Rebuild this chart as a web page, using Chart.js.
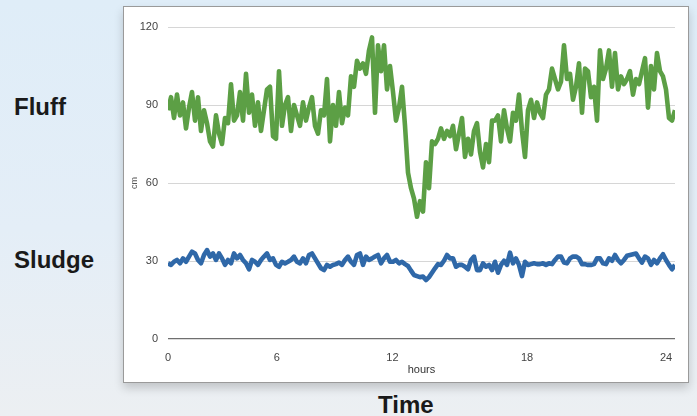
<!DOCTYPE html>
<html>
<head>
<meta charset="utf-8">
<script src="https://cdn.jsdelivr.net/npm/chart.js@4.4.1/dist/chart.umd.min.js"></script>
<style>
    html, body { margin: 0; padding: 0; }
    body {
        width: 697px; height: 416px; position: relative; overflow: hidden;
        background: linear-gradient(180deg, #dfedf8 0%, #e4eef7 55%, #eceff2 100%);
        font-family: "Liberation Sans", Arial, Helvetica, sans-serif;
    }
    .side { position: absolute; font-weight: bold; font-size: 24px; line-height: 24px; color: #1a1a1a; }
    #panel {
        position: absolute; left: 123px; top: 6px; width: 564px; height: 375px;
        background: #fff; border: 1px solid #9a9a9a;
        box-shadow: 0 5px 9px rgba(0, 0, 0, 0.18);
    }
</style>
</head>
<body>
<div class="side" style="left:14px; top:95px;">Fluff</div>
<div class="side" style="left:14px; top:248px;">Sludge</div>
<div class="side" style="left:378px; top:393px;">Time</div>
<div id="panel"><canvas id="chart" width="564" height="375"></canvas></div>

<script>
// level readings in cm, one per sample, left to right
const fluff = [
    88, 93, 85, 94, 86, 91, 81, 89, 95, 84,
    93, 80, 88, 83, 76, 74, 86, 79, 75, 85,
    83, 98, 84, 86, 95, 84, 102, 87, 94, 82,
    91, 80, 88, 96, 97, 78, 77, 103, 82, 90,
    93, 80, 90, 86, 82, 91, 84, 89, 93, 82,
    79, 88, 86, 100, 76, 90, 82, 95, 83, 89,
    86, 101, 97, 107, 104, 106, 102, 111, 116, 87,
    113, 103, 113, 96, 105, 95, 84, 89, 97, 82,
    64, 58, 54, 47, 53, 49, 68, 58, 76, 75,
    77, 81, 77, 80, 78, 82, 73, 79, 85, 70,
    77, 71, 80, 83, 72, 66, 75, 68, 84, 84,
    86, 76, 88, 81, 76, 87, 84, 94, 80, 70,
    88, 92, 85, 91, 87, 85, 94, 96, 104, 100,
    96, 99, 113, 100, 102, 92, 97, 106, 87, 104,
    103, 93, 97, 84, 111, 100, 104, 111, 97, 110,
    96, 101, 98, 100, 103, 94, 100, 98, 103, 108,
    89, 105, 96, 110, 103, 101, 96, 85, 84, 88
];

const sludge = [
    29.1, 28.5, 29.7, 30.4, 29.1, 31.0, 29.7, 31.7, 33.6, 32.9,
    30.4, 29.1, 32.3, 34.2, 31.7, 32.9, 30.4, 32.9, 31.0, 28.5,
    30.4, 29.1, 32.9, 31.0, 32.3, 30.4, 29.1, 26.8, 30.4, 29.7,
    28.5, 30.4, 31.7, 32.9, 30.4, 31.0, 28.5, 27.8, 29.7, 29.1,
    29.7, 30.4, 31.7, 29.7, 29.1, 31.0, 29.1, 32.3, 32.9, 31.0,
    29.1, 27.2, 26.5, 28.5, 27.8, 28.5, 28.8, 29.4, 28.5, 30.4,
    31.7, 29.7, 28.5, 32.3, 32.9, 28.5, 31.7, 30.4, 31.0, 31.7,
    32.3, 29.1, 31.0, 32.3, 29.7, 29.7, 30.4, 29.1, 29.7, 28.8,
    28.1, 26.3, 24.6, 24.2, 23.8, 24.0, 22.7, 23.8, 25.5, 27.2,
    28.8, 28.5, 30.1, 32.3, 31.0, 31.0, 27.8, 28.5, 28.5, 27.8,
    26.8, 30.4, 31.7, 26.5, 26.5, 29.1, 27.8, 28.5, 26.5, 29.7,
    25.5, 28.5, 30.1, 28.5, 33.2, 29.1, 31.0, 28.5, 24.2, 29.7,
    28.5, 28.8, 29.1, 28.8, 28.8, 29.1, 28.5, 29.1, 28.8, 30.4,
    31.7, 31.7, 29.4, 29.1, 31.0, 31.7, 31.7, 31.0, 28.8, 28.8,
    28.5, 28.5, 28.8, 31.0, 31.0, 29.1, 28.8, 31.0, 30.1, 32.3,
    30.4, 29.1, 30.4, 32.0, 32.3, 32.6, 32.9, 31.0, 29.4, 31.7,
    31.0, 28.5, 30.4, 29.1, 31.0, 32.6, 30.4, 28.5, 26.8, 28.5
];

// hour labels and the sample number each one falls on
const hourLabels = ['0', '6', '12', '18', '24'];
const hourSample = [0, 36.3, 74.8, 119.7, 166];

const yTicks = [0, 30, 60, 90, 120];

const toPoints = arr => arr.map((v, i) => ({ x: i, y: v }));

const FONT = '"Liberation Sans", Arial, Helvetica, sans-serif';

new Chart(document.getElementById('chart'), {
    type: 'line',
    data: {
        datasets: [
            {
                label: 'Fluff',
                data: toPoints(fluff),
                borderColor: '#5c9f45',
                borderWidth: 4.6,
                borderJoinStyle: 'round',
                pointRadius: 0,
                tension: 0
            },
            {
                label: 'Sludge',
                data: toPoints(sludge),
                borderColor: '#2f68a8',
                borderWidth: 4.6,
                borderJoinStyle: 'round',
                pointRadius: 0,
                tension: 0
            }
        ]
    },
    options: {
        responsive: false,
        animation: false,
        devicePixelRatio: 1,
        layout: { padding: { top: 20, right: 13, left: 0, bottom: 0 } },
        plugins: { legend: { display: false }, tooltip: { enabled: false } },
        scales: {
            x: {
                type: 'linear',
                min: 0,
                max: fluff.length - 1,
                afterBuildTicks: scale => { scale.ticks = hourSample.map(v => ({ value: v })); },
                afterFit: scale => { scale.height = 43; },
                grid: { display: false },
                border: { display: false },
                ticks: {
                    padding: 4,
                    maxRotation: 0,
                    autoSkip: false,
                    color: '#444',
                    font: { family: FONT, size: 11 },
                    callback: v => hourLabels[hourSample.indexOf(v)]
                },
                title: {
                    display: true,
                    text: 'hours',
                    color: '#333',
                    font: { family: FONT, size: 11 },
                    padding: { top: 0, bottom: 5 }
                }
            },
            y: {
                min: 0,
                max: 120,
                afterBuildTicks: scale => { scale.ticks = yTicks.map(v => ({ value: v })); },
                afterFit: scale => { scale.width = 44; },
                grid: {
                    drawTicks: false,
                    color: ctx => ctx.tick && ctx.tick.value === 0 ? '#6f6f6f' : '#d6d6d6',
                    lineWidth: ctx => ctx.tick && ctx.tick.value === 0 ? 1.2 : 1
                },
                border: { display: false },
                ticks: {
                    padding: 10,
                    color: '#444',
                    font: { family: FONT, size: 11 }
                },
                title: {
                    display: true,
                    text: 'cm',
                    color: '#555',
                    font: { family: FONT, size: 9 },
                    padding: { top: 5, bottom: 0 }
                }
            }
        }
    }
});
</script>
</body>
</html>
